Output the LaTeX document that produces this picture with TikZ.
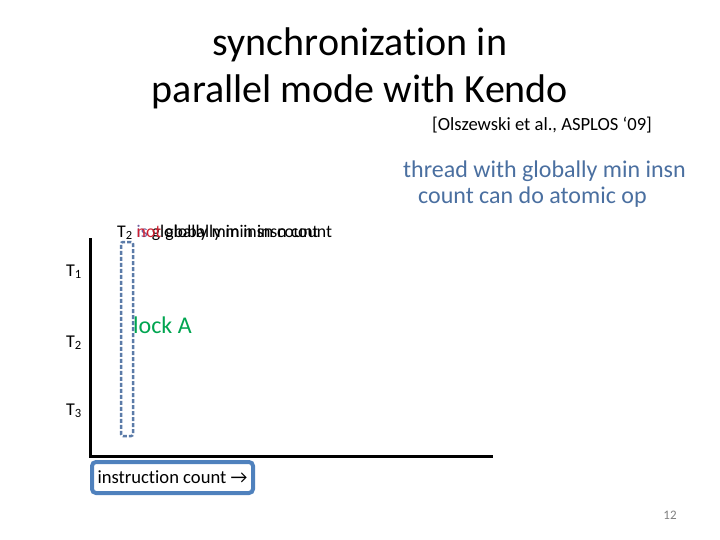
\documentclass[tikz,border=0pt]{standalone}
\usepackage{fontspec}
\setmainfont{Carlito}[Ligatures=NoCommon]
\definecolor{boxblue}{HTML}{4F81BD}
\definecolor{txtblue}{HTML}{4A6FA0}
\definecolor{dashblue}{HTML}{5B7BA8}
\definecolor{lockgreen}{HTML}{00A550}
\definecolor{notred}{HTML}{D02030}
\definecolor{ispurple}{HTML}{7060A0}
\begin{document}
\begin{tikzpicture}[x=1pt,y=-1pt,
  lbl/.style={inner sep=0pt,anchor=base west},
  ttl/.style={inner sep=0pt,anchor=base,font=\fontsize{40}{48}\selectfont},
  axis/.style={line width=3pt,black},
  thread/.style={lbl,font=\fontsize{18}{20}\selectfont}]
\useasboundingbox (0,0) rectangle (720,540);
\node[ttl] (title1) at (360,56) {synchronization in};
\node[ttl] (title2) at (360,103) {parallel mode with Kendo};
\node[lbl,font=\fontsize{18.6}{22}\selectfont] (cite) at (432,131) {[Olszewski et al., ASPLOS ‘09]};
\node[lbl,font=\fontsize{24}{27}\selectfont,text=txtblue] (note1) at (403,178) {thread with globally min insn};
\node[lbl,font=\fontsize{24}{27}\selectfont,text=txtblue] (note2) at (418,204) {count can do atomic op};
\coordinate (o) at (90,456);
\coordinate (ytop) at (90,238);
\coordinate (xend) at (493,456);
\draw[axis] (ytop) -- (o) -- (xend);
\node[thread] (t1) at (66,276) {T\textsubscript{1}};
\node[thread] (t2) at (66,347) {T\textsubscript{2}};
\node[thread] (t3) at (66,415) {T\textsubscript{3}};
\node[lbl,font=\fontsize{17.8}{20}\selectfont] (isg) at (117,237) {T\textsubscript{2} \textcolor{ispurple}{is} globally min insn count};
\node[lbl,font=\fontsize{17.8}{20}\selectfont] (notg) at (117,237) {\phantom{T\textsubscript{2} }\textcolor{notred}{not} globally min insn count};
\node[draw=dashblue,line width=2.5pt,dash pattern=on 4pt off 2pt,rounded corners=2pt,minimum width=12pt,minimum height=194pt,inner sep=0pt] (win) at (127,339) {};
\node[lbl,font=\fontsize{24}{28}\selectfont,text=lockgreen] (lock) at (133,333) {lock A};
\node[draw=boxblue,line width=4pt,rounded corners=4pt,minimum width=161pt,minimum height=31pt,inner sep=0pt,font=\fontsize{18.6}{20}\selectfont] (ic) at (172.5,477.5) {instruction count →};
\node[inner sep=0pt,font=\fontsize{13}{15}\selectfont,text=gray] (pg) at (670,515) {12};
\end{tikzpicture}
\end{document}
